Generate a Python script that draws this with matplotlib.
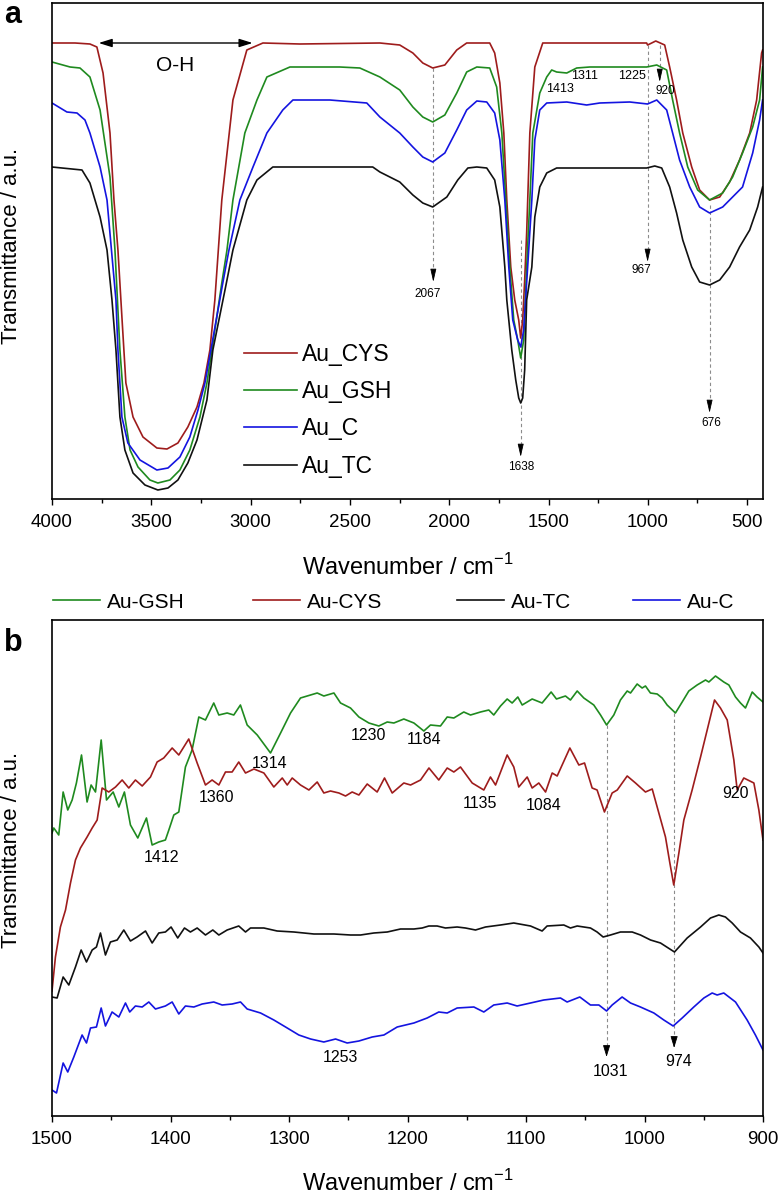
import matplotlib
matplotlib.use('Agg')
import matplotlib.pyplot as plt
from matplotlib.ticker import MultipleLocator

plt.rcParams['font.family'] = ['Liberation Sans', 'DejaVu Sans']

# ---------------- Panel a: full FTIR spectra (wavenumber, transmittance a.u.) -------------
cys_a_wn = [4000, 3884, 3809, 3774, 3743, 3708, 3688, 3668, 3648, 3628, 3592, 3542, 3472, 3421,
            3366, 3316, 3270, 3235, 3205, 3180, 3145, 3089, 3019, 2938, 2752, 2349, 2249, 2183,
            2133, 2083, 2022, 1962, 1912, 1796, 1771, 1745, 1725, 1710, 1690, 1670, 1650, 1640,
            1630, 1620, 1610, 1594, 1569, 1529, 1242, 1006, 1001, 960, 915, 890, 855, 824, 779,
            739, 689, 638, 588, 538, 487, 452, 427, 422]
cys_a_t = [456, 456, 455, 452, 426, 366, 299, 249, 182, 116, 82, 62, 51, 50,
           56, 72, 92, 116, 149, 199, 299, 399, 449, 456, 455, 456, 454, 446,
           436, 431, 434, 449, 456, 456, 446, 416, 366, 299, 232, 199, 179, 161,
           179, 219, 266, 366, 432, 456, 456, 456, 454, 458, 454, 432, 399, 366, 332,
           309, 299, 302, 317, 339, 366, 399, 446, 449]

gsh_a_wn = [4000, 3909, 3859, 3809, 3758, 3708, 3683, 3658, 3633, 3607, 3567, 3507, 3467, 3406,
            3356, 3306, 3255, 3220, 3195, 3145, 3119, 3089, 3029, 2968, 2918, 2802, 2551, 2450,
            2349, 2249, 2183, 2133, 2083, 2022, 1962, 1912, 1861, 1796, 1761, 1735, 1715, 1695,
            1675, 1655, 1640, 1625, 1610, 1594, 1579, 1544, 1509, 1484, 1459, 1408, 1358, 1292,
            1177, 1006, 955, 905, 875, 840, 799, 749, 689, 623, 573, 523, 472, 437, 422]
gsh_a_t = [437, 432, 431, 422, 389, 322, 249, 149, 82, 49, 32, 19, 16, 19,
           29, 49, 82, 116, 149, 216, 249, 299, 366, 399, 422, 432, 432, 431,
           422, 409, 392, 382, 377, 384, 406, 427, 432, 431, 412, 366, 299, 232,
           179, 159, 141, 159, 232, 299, 366, 406, 422, 429, 427, 426, 431, 432,
           432, 432, 434, 429, 399, 366, 332, 309, 299, 306, 322, 346, 372, 399, 432]

c_a_wn = [4000, 3925, 3874, 3834, 3809, 3758, 3723, 3693, 3678, 3668, 3648, 3618, 3557, 3472,
          3416, 3356, 3306, 3265, 3230, 3200, 3140, 3109, 3054, 2988, 2918, 2838, 2787, 2601,
          2415, 2349, 2249, 2183, 2133, 2083, 2022, 1962, 1912, 1861, 1811, 1771, 1745, 1720,
          1700, 1680, 1655, 1640, 1625, 1605, 1584, 1569, 1544, 1509, 1408, 1308, 1242, 1091,
          1001, 955, 905, 875, 840, 789, 739, 689, 623, 573, 523, 472, 437, 422]
c_a_t = [396, 387, 386, 379, 366, 332, 299, 232, 199, 149, 82, 56, 39, 29,
         31, 42, 62, 89, 116, 149, 216, 249, 299, 332, 366, 389, 399, 399,
         396, 382, 366, 352, 342, 337, 346, 369, 389, 398, 397, 386, 359, 299,
         232, 179, 159, 152, 169, 232, 299, 359, 389, 396, 397, 394, 396, 397,
         395, 399, 389, 366, 339, 312, 292, 286, 292, 302, 312, 346, 379, 399]

tc_a_wn = [4000, 3849, 3809, 3758, 3723, 3698, 3678, 3658, 3633, 3592, 3532, 3467, 3416, 3366,
           3316, 3270, 3220, 3190, 3129, 3089, 3019, 2968, 2888, 2385, 2349, 2249, 2183, 2133,
           2083, 2012, 1957, 1906, 1861, 1811, 1771, 1745, 1720, 1710, 1685, 1665, 1650, 1640,
           1630, 1620, 1610, 1584, 1569, 1544, 1509, 1459, 1343, 1177, 1006, 965, 930, 890,
           855, 824, 779, 739, 689, 638, 588, 538, 487, 447, 422]
tc_a_t = [332, 329, 316, 282, 249, 199, 149, 82, 49, 26, 14, 9, 11, 19,
          36, 59, 99, 149, 209, 249, 299, 319, 332, 332, 327, 317, 304, 296,
          292, 302, 319, 331, 332, 331, 319, 292, 232, 199, 149, 119, 101, 96,
          101, 129, 199, 232, 282, 312, 326, 331, 331, 331, 331, 333, 331, 312,
          286, 259, 232, 217, 214, 219, 232, 252, 269, 292, 312]

# peak markers in panel a
a_arrow_pos = [2080, 1640, 1001, 940, 689]
a_arrow_top = [431, 259, 454, 454, 294]
a_arrow_tip = [217, 42, 237, 417, 86]
a_arrow_lbl = ['2067', '1638', '967', '920', '676']
a_lbl_x = [2110, 1637, 1030, 910, 678]
a_lbl_y = [205, 32, 229, 408, 76]
a_text_lbl = ['1413', '1311', '1225']
a_text_x = [1443, 1318, 1081]
a_text_y = [410, 423, 423]

# ---------------- Panel b: 1500-900 cm-1 region -------------
gsh_b_wn = [1500, 1498.5, 1494.3, 1490.6, 1486.7, 1483, 1479.4, 1475.1, 1470.4, 1467, 1463.3,
            1458.5, 1454, 1448.4, 1443.6, 1438.9, 1433.8, 1427.6, 1420.3, 1415.5, 1409.9, 1404.3,
            1401.4, 1397.2, 1393, 1387.4, 1381.8, 1376.1, 1370.5, 1363.5, 1359.2, 1352.2, 1346.6,
            1341, 1335.3, 1326.8, 1315.6, 1307.1, 1298.7, 1290.3, 1276.2, 1270.6, 1262.1, 1256.5,
            1248.1, 1241, 1232.6, 1224.2, 1217.1, 1211.5, 1203.1, 1194.6, 1186.2, 1180.6, 1172.2,
            1166.5, 1160.9, 1152.5, 1146.8, 1138.4, 1131.4, 1127.2, 1121.5, 1115.9, 1111.7, 1106.9,
            1103.2, 1094.8, 1086.4, 1078.8, 1074.3, 1066.7, 1062.5, 1056.8, 1051.2, 1042.8, 1037.1,
            1032, 1025.9, 1020.3, 1014.6, 1011.8, 1006.2, 1002, 999.2, 995, 989.3, 985.1, 980.9,
            973.9, 968.2, 962.6, 955.6, 948.5, 945.7, 940.1, 933.1, 928.8, 923.2, 919, 914.8,
            909.1, 905, 900]
gsh_b_t = [283, 288, 281, 324, 306, 316, 333, 361, 314, 331, 324,
           376, 316, 324, 309, 324, 291, 278, 298, 271, 274, 276,
           286, 301, 304, 349, 366, 399, 396, 413, 401, 403, 401,
           411, 391, 381, 363, 383, 403, 418, 423, 420, 423, 413,
           408, 399, 393, 390, 394, 393, 397, 393, 385, 391, 390,
           399, 398, 404, 401, 404, 406, 401, 410, 417, 413, 419,
           411, 417, 413, 424, 417, 420, 416, 425, 418, 411, 401,
           391, 401, 416, 425, 423, 432, 428, 430, 423, 422, 418, 411,
           403, 414, 425, 431, 436, 434, 440, 434, 431, 419, 413, 408,
           424, 419, 414]

cys_b_wn = [1500, 1497.1, 1492.9, 1488.6, 1484.4, 1480.2, 1476, 1470.4, 1466.1, 1461.9, 1457.7,
            1452.1, 1446.4, 1440.8, 1435.2, 1429.6, 1423.9, 1416.9, 1411.3, 1405.7, 1398.6, 1393,
            1384.6, 1377.5, 1370.5, 1364.9, 1359.2, 1353.6, 1348, 1342.4, 1336.7, 1329.6, 1321.2,
            1312.8, 1305.7, 1301.5, 1297.3, 1290.3, 1283.2, 1276.2, 1270.6, 1265, 1257.9, 1252.3,
            1246.7, 1241, 1234, 1225.6, 1219.4, 1212.9, 1203.1, 1197.4, 1189, 1181.9, 1173.6,
            1166.5, 1160.9, 1155.3, 1145.4, 1135.6, 1130, 1125.7, 1115.9, 1110.3, 1106.1, 1099,
            1094.8, 1089.2, 1083.5, 1077.9, 1073.7, 1063, 1055.4, 1050.6, 1044.2, 1040, 1033.8,
            1027.3, 1023, 1014.6, 1007.6, 999.2, 993.5, 987.9, 982.3, 978.6, 975.3, 971, 966.8,
            959.8, 952.7, 947.1, 940.9, 935.9, 930.2, 924.6, 921.8, 916.2, 907.7, 903.5, 900]
cys_b_t = [125, 159, 189, 206, 233, 256, 268, 279, 288, 296, 328,
           324, 329, 336, 328, 336, 330, 339, 354, 358, 368, 361,
           377, 353, 331, 336, 331, 344, 344, 354, 343, 347, 343,
           329, 338, 331, 338, 331, 326, 334, 323, 325, 323, 320,
           324, 321, 332, 324, 338, 323, 333, 331, 336, 348, 336,
           348, 344, 349, 333, 326, 339, 331, 361, 349, 329, 339,
           328, 333, 324, 343, 340, 368, 351, 353, 328, 326, 304,
           323, 326, 340, 333, 324, 327, 303, 279, 253, 231, 263, 296,
           326, 359, 386, 416, 408, 396, 356, 326, 338, 333, 306, 276]

tc_b_wn = [1500, 1495.7, 1490.6, 1485.8, 1480.2, 1475.4, 1470.9, 1466.1, 1462.5, 1459.1, 1454.9,
           1450.7, 1445, 1439.4, 1433.8, 1428.2, 1421.1, 1415.5, 1409.9, 1404.3, 1399.5, 1393.9,
           1388.2, 1383.2, 1377.5, 1370.5, 1364.3, 1359.2, 1352.2, 1342.4, 1336.7, 1332.5, 1321.2,
           1310, 1295.9, 1279, 1262.1, 1248.1, 1239.6, 1228.4, 1217.1, 1205.9, 1194.6, 1187.6,
           1182, 1175, 1168, 1158.1, 1151.1, 1142.6, 1134.2, 1121.5, 1110.3, 1096.2, 1086.4,
           1082.2, 1068.1, 1062.5, 1056.8, 1045.6, 1040, 1034.9, 1028.7, 1020.3, 1010.4, 1003.4,
           994.9, 986.5, 974.7, 964, 952.7, 944.3, 937.3, 931.7, 926, 919, 910.6, 903.5, 900]
tc_b_t = [119, 118, 139, 131, 149, 166, 154, 166, 169, 183, 161,
          174, 176, 186, 175, 179, 185, 173, 183, 184, 189, 178,
          188, 184, 188, 181, 186, 181, 186, 190, 184, 188, 188,
          185, 184, 182, 182, 181, 181, 183, 184, 187, 187, 188,
          190, 190, 188, 189, 188, 186, 189, 191, 193, 190, 185,
          190, 191, 188, 190, 188, 184, 179, 181, 184, 184, 181,
          176, 173, 164, 178, 189, 198, 201, 199, 193, 184, 178, 169, 163]

c_b_wn = [1500, 1496.2, 1490.6, 1486.7, 1481.6, 1474.6, 1470.9, 1467.5, 1462.5, 1458.5, 1454.9,
          1449.3, 1443.6, 1438, 1434.4, 1429.6, 1423.9, 1418.3, 1412.7, 1404.3, 1398.6, 1393,
          1387.4, 1380.3, 1373.3, 1363.5, 1356.4, 1348, 1340.9, 1335.3, 1324, 1312.8, 1301.5,
          1291.7, 1281.8, 1270.6, 1260.7, 1250.9, 1241, 1229.8, 1219.9, 1208.7, 1194.6, 1183.4,
          1173.6, 1166.5, 1158.1, 1144, 1135.6, 1127.2, 1115.9, 1107.5, 1096.2, 1085, 1070.9,
          1065.3, 1054.6, 1045.6, 1038.5, 1032, 1027.3, 1018.9, 1011.8, 1003.4, 992.1, 983.7,
          975.8, 968.2, 958.4, 949.9, 942.9, 938.7, 933.1, 923.2, 913.4, 906.4, 900]
c_b_t = [26, 23, 53, 44, 59, 81, 73, 88, 89, 108, 90,
         104, 99, 113, 104, 110, 109, 114, 107, 110, 114, 102,
         110, 109, 112, 114, 111, 112, 114, 107, 103, 96, 88,
         81, 77, 74, 77, 73, 75, 79, 81, 89, 93, 98,
         104, 103, 108, 109, 104, 111, 113, 110, 113, 116, 118,
         114, 119, 111, 111, 105, 111, 119, 113, 109, 103, 96,
         90, 98, 109, 118, 123, 121, 123, 114, 96, 81, 66]

b_arrow_pos = [1032, 975]
b_arrow_top = [391, 403]
b_arrow_tip = [59, 68]
b_arrow_lbl = ['1031', '974']
b_lbl_x = [1029, 971]
b_lbl_y = [44, 54]
b_text_lbl = ['1412', '1360', '1314', '1230', '1184', '1135', '1084', '920', '1253']
b_text_x = [1408, 1361, 1316, 1233, 1186, 1139, 1085, 923, 1257]
b_text_y = [259, 319, 353, 380, 376, 313, 311, 323, 59]

RED = '#9e1c1c'
GREEN = '#1f8a1f'
BLUE = '#1414e0'
BLACK = '#111111'
DASH = '#8c8c8c'

W, H = 780, 1195
fig = plt.figure(figsize=(W / 100, H / 100), dpi=100)


def rect(l, t, r, b):
    return [l / W, 1 - b / H, (r - l) / W, (b - t) / H]


ax1 = fig.add_axes(rect(52, 3, 763, 499))
ax2 = fig.add_axes(rect(52, 620, 763, 1116))


def arrow(ax, x, top, tip, head, hw):
    ax.plot([x, x], [top, tip + head], ls=(0, (3, 2.5)), lw=0.8, color=DASH, zorder=1)
    ax.annotate('', xy=(x, tip), xytext=(x, tip + head),
                arrowprops=dict(arrowstyle='-|>,head_length=%g,head_width=%g' % (head * 0.072, hw),
                                color='black', lw=0.6, shrinkA=0, shrinkB=0), zorder=3)


# ---- panel a ----
lw = 1.2
l1, = ax1.plot(cys_a_wn, cys_a_t, color=RED, lw=lw, label='Au_CYS', zorder=2)
l2, = ax1.plot(gsh_a_wn, gsh_a_t, color=GREEN, lw=lw, label='Au_GSH', zorder=2)
l3, = ax1.plot(c_a_wn, c_a_t, color=BLUE, lw=lw, label='Au_C', zorder=2)
l4, = ax1.plot(tc_a_wn, tc_a_t, color=BLACK, lw=lw, label='Au_TC', zorder=2)
ax1.set_xlim(4000, 420)
ax1.set_ylim(0, 496)
ax1.set_yticks([])
ax1.xaxis.set_major_locator(MultipleLocator(500))
ax1.xaxis.set_minor_locator(MultipleLocator(250))

for x, t, tp, lb, lx, ly in zip(a_arrow_pos, a_arrow_top, a_arrow_tip, a_arrow_lbl, a_lbl_x, a_lbl_y):
    arrow(ax1, x, t, tp, 11, 0.18)
    ax1.text(lx, ly, lb, fontsize=8.5, ha='center', va='center')
for lb, lx, ly in zip(a_text_lbl, a_text_x, a_text_y):
    ax1.text(lx, ly, lb, fontsize=9, ha='center', va='center')

ax1.annotate('', xy=(3765, 456), xytext=(2990, 456),
             arrowprops=dict(arrowstyle='<|-|>,head_length=0.8,head_width=0.25', color='black',
                             lw=1.0, shrinkA=0, shrinkB=0))
ax1.text(3380, 434, 'O-H', fontsize=15, ha='center', va='center')

ax1.legend(handles=[l1, l2, l3, l4], loc='upper left', frameon=False, fontsize=16.5,
           bbox_to_anchor=(244 / W, 1 - 343 / H), bbox_transform=fig.transFigure,
           borderpad=0, borderaxespad=0, handlelength=2.3, handletextpad=0.25, labelspacing=0.62)

# ---- panel b ----
m1, = ax2.plot(gsh_b_wn, gsh_b_t, color=GREEN, lw=lw, label='Au-GSH', zorder=2)
m2, = ax2.plot(cys_b_wn, cys_b_t, color=RED, lw=lw, label='Au-CYS', zorder=2)
m3, = ax2.plot(tc_b_wn, tc_b_t, color=BLACK, lw=lw, label='Au-TC', zorder=2)
m4, = ax2.plot(c_b_wn, c_b_t, color=BLUE, lw=lw, label='Au-C', zorder=2)
ax2.set_xlim(1500, 900)
ax2.set_ylim(0, 496)
ax2.set_yticks([])
ax2.xaxis.set_major_locator(MultipleLocator(100))
ax2.xaxis.set_minor_locator(MultipleLocator(50))

for x, t, tp, lb, lx, ly in zip(b_arrow_pos, b_arrow_top, b_arrow_tip, b_arrow_lbl, b_lbl_x, b_lbl_y):
    arrow(ax2, x, t, tp, 10, 0.22)
    ax2.text(lx, ly, lb, fontsize=11.5, ha='center', va='center')
for lb, lx, ly in zip(b_text_lbl, b_text_x, b_text_y):
    ax2.text(lx, ly, lb, fontsize=11.5, ha='center', va='center')

# one legend entry per column, placed where the reference shows them
handles_b = [m1, m2, m3, m4]
xpos_b = [53, 253, 457, 633]
for i, (h, xpx) in enumerate(zip(handles_b, xpos_b)):
    lg = ax2.legend(handles=[h], loc='center left', frameon=False, fontsize=15,
                    bbox_to_anchor=(xpx / W, 1 - 602 / H), bbox_transform=fig.transFigure,
                    borderpad=0, borderaxespad=0, handlelength=2.26, handletextpad=0.34)
    if i < len(handles_b) - 1:
        ax2.add_artist(lg)

for ax, ly in ((ax1, 0.51), (ax2, 0.536)):
    for s in ax.spines.values():
        s.set_linewidth(1.2)
    ax.tick_params(axis='x', which='major', direction='out', length=4.5, width=1.0,
                   labelsize=13.5, pad=6, top=False)
    ax.tick_params(axis='x', which='minor', direction='out', length=3.2, width=1.0, top=False)
    ax.set_xlabel('Wavenumber / cm$^{\\mathregular{-1}}$', fontsize=17)
    ax.set_ylabel('Transmittance / a.u.', fontsize=16)
    ax.yaxis.set_label_coords(-0.042, ly)

ax1.xaxis.set_label_coords(0.5, -0.111)
ax2.xaxis.set_label_coords(0.5, -0.108)

fig.text(13 / W, 1 - 15 / H, 'a', fontsize=22, fontweight='bold', ha='center', va='center')
fig.text(13 / W, 1 - 643 / H, 'b', fontsize=22, fontweight='bold', ha='center', va='center')

fig.savefig('out.png', dpi=100)
